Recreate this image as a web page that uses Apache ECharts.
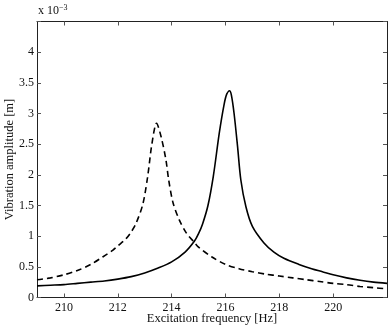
<!DOCTYPE html>
<html>
<head>
<meta charset="utf-8">
<script src="https://cdn.jsdelivr.net/npm/echarts@6/dist/echarts.min.js"></script>
<style>html,body{margin:0;padding:0;background:#fff}#c{width:390px;height:328px}</style>
</head>
<body>
<div id="c"></div>
<script>
// Amplitudes in units of 1e-3 m
const freqSolid = [209.0,209.5,210.0,210.5,211.0,211.5,212.0,212.5,213.0,213.5,214.0,214.5,214.85,215.0,215.15,215.35,215.55,215.77,215.95,216.05,216.15,216.22,216.32,216.45,216.57,216.76,217.0,217.43,217.8,218.17,218.73,219.2,219.6,220.0,220.5,221.0,221.5,222.0];
const ampSolid  = [0.19,0.20,0.21,0.23,0.25,0.27,0.30,0.34,0.40,0.48,0.58,0.74,0.92,1.04,1.20,1.50,1.98,2.68,3.15,3.32,3.37,3.30,3.00,2.46,1.92,1.48,1.16,0.89,0.74,0.64,0.54,0.47,0.42,0.37,0.32,0.28,0.25,0.23];
const freqDashed = [209.0,209.5,210.0,210.5,211.0,211.44,211.81,212.0,212.31,212.5,212.68,212.93,213.11,213.27,213.44,213.61,213.79,213.89,214.05,214.28,214.55,214.84,215.0,215.5,216.0,216.5,217.0,217.5,218.0,218.5,219.0,219.5,220.0,220.5,221.0,221.5,222.0];
const ampDashed  = [0.29,0.32,0.37,0.44,0.54,0.66,0.77,0.84,0.96,1.07,1.21,1.52,1.97,2.51,2.84,2.62,2.24,1.92,1.55,1.27,1.05,0.90,0.82,0.66,0.54,0.47,0.42,0.38,0.35,0.32,0.29,0.26,0.23,0.21,0.18,0.16,0.14];
const xTicks = [210,212,214,216,218,220];
const yTicks = [0,0.5,1,1.5,2,2.5,3,3.5,4];

const font = 'Liberation Serif';
const axisCol = '#222';
const chart = echarts.init(document.getElementById('c'));
const baseX = {
  type:'value', min:209, max:222,
  axisLine:{show:true,onZero:false,lineStyle:{color:axisCol,width:1}},
  splitLine:{show:false}
};
const baseY = {
  type:'value', min:0, max:4.5, interval:0.5,
  axisLine:{show:true,onZero:false,lineStyle:{color:axisCol,width:1}},
  splitLine:{show:false}
};
chart.setOption({
  animation:false,
  grid:{left:37,right:3,top:21.5,bottom:30.5,containLabel:false,outerBoundsMode:'none'},
  xAxis:[
    Object.assign({}, baseX, {position:'bottom',
      name:'Excitation frequency [Hz]', nameLocation:'middle', nameGap:15, nameMoveOverlap:false,
      nameTextStyle:{fontFamily:font,fontSize:12.5,color:'#111',verticalAlign:'top'},
      axisTick:{show:true,inside:true,length:4,customValues:xTicks,lineStyle:{color:'#555'}},
      axisLabel:{show:true,customValues:xTicks,margin:4,fontFamily:font,fontSize:12,color:'#111'}}),
    Object.assign({}, baseX, {position:'top',
      axisTick:{show:true,inside:true,length:4,customValues:xTicks,lineStyle:{color:'#555'}},
      axisLabel:{show:false}})
  ],
  yAxis:[
    Object.assign({}, baseY, {position:'left',
      name:'Vibration amplitude [m]', nameLocation:'middle', nameGap:21, nameMoveOverlap:false,
      nameTextStyle:{fontFamily:font,fontSize:12.5,color:'#111'},
      axisTick:{show:true,inside:true,length:4,lineStyle:{color:'#555'}},
      axisLabel:{show:true,margin:3,fontFamily:font,fontSize:12,color:'#111',
        formatter:v=> yTicks.indexOf(v)>=0 ? String(v) : ''}}),
    Object.assign({}, baseY, {position:'right',
      axisTick:{show:true,inside:true,length:4,lineStyle:{color:'#555'}},
      axisLabel:{show:false}})
  ],
  graphic:[{
    type:'text', left:38, top:4,
    style:{rich:{a:{fontFamily:font,fontSize:12,fill:'#111'},s:{fontFamily:font,fontSize:8,fill:'#111',verticalAlign:'top',padding:[0,0,6,0]}},
      text:'{a|x 10}{s|\u22123}'}
  }],
  series:[
    {type:'line', xAxisIndex:0, yAxisIndex:0, showSymbol:false, smooth:0.3,
     data:freqSolid.map((f,i)=>[f,ampSolid[i]]),
     lineStyle:{color:'#000',width:1.6,type:'solid'}},
    {type:'line', xAxisIndex:0, yAxisIndex:0, showSymbol:false, smooth:0.3,
     data:freqDashed.map((f,i)=>[f,ampDashed[i]]),
     lineStyle:{color:'#000',width:1.6,type:[6,4]}}
  ]
});
</script>
</body>
</html>
